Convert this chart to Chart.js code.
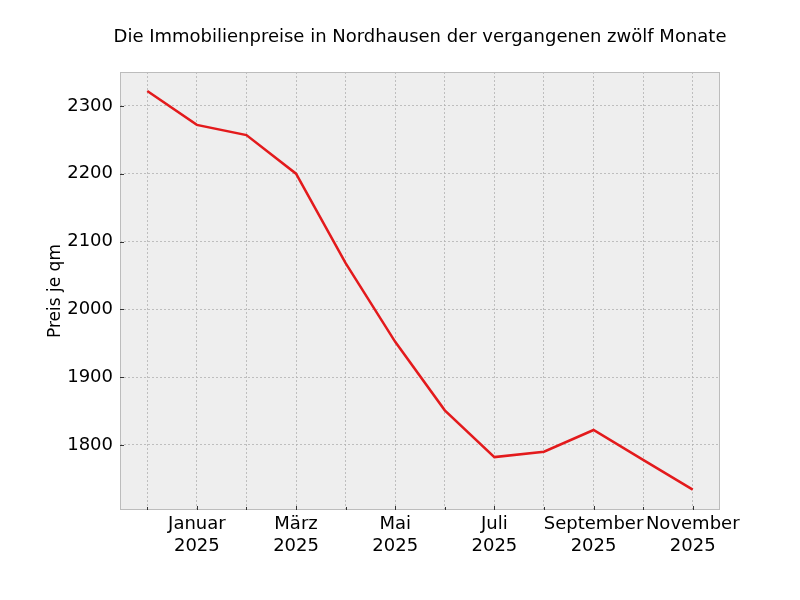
<!DOCTYPE html>
<html lang="de">
<head>
<meta charset="utf-8">
<script src="https://cdn.jsdelivr.net/npm/chart.js@4.4.0/dist/chart.umd.min.js"></script>
<style>
  body { margin: 0; background: #fff; }
</style>
</head>
<body>
<canvas id="chart" width="800" height="600"></canvas>
<script>
// months from Dezember 2024 to November 2025
const months = ['Dezember', 'Januar', 'Februar', 'März', 'April', 'Mai', 'Juni', 'Juli', 'August', 'September', 'Oktober', 'November'];
const years = ['2024', '2025', '2025', '2025', '2025', '2025', '2025', '2025', '2025', '2025', '2025', '2025'];
const prices = [2322, 2272, 2257, 2200, 2068, 1952, 1851, 1782, 1790, 1822, 1778, 1734];
const yTicks = [1800, 1900, 2000, 2100, 2200, 2300];
const title = 'Die Immobilienpreise in Nordhausen der vergangenen zwölf Monate';

const FONT = 'DejaVu Sans';

const points = prices.map((p, i) => ({ x: i, y: p }));

// background, frame, inward tick marks and the title centred over the plot (matplotlib bmh look)
const frame = {
    id: 'frame',
    beforeDraw(chart) {
        const a = chart.chartArea, c = chart.ctx;
        c.save();
        c.fillStyle = '#eeeeee';
        c.fillRect(a.left, a.top, a.right - a.left, a.bottom - a.top);
        c.restore();
    },
    afterDatasetsDraw(chart) {
        const a = chart.chartArea, c = chart.ctx;
        const xs = chart.scales.x, ys = chart.scales.y;
        c.save();
        c.strokeStyle = '#bcbcbc';
        c.lineWidth = 1;
        c.strokeRect(a.left + 0.5, a.top + 0.5, a.right - a.left - 1, a.bottom - a.top - 1);
        c.strokeStyle = '#333';
        c.lineWidth = 1;
        months.forEach((m, i) => {
            const x = Math.round(xs.getPixelForValue(i)) + 0.5;
            const len = i % 2 === 1 ? 4 : 3;
            c.beginPath();
            c.moveTo(x, a.bottom);
            c.lineTo(x, a.bottom - len);
            c.stroke();
        });
        yTicks.forEach(v => {
            const y = Math.round(ys.getPixelForValue(v)) + 0.5;
            c.beginPath();
            c.moveTo(a.left, y);
            c.lineTo(a.left + 4, y);
            c.stroke();
        });
        // title
        c.fillStyle = '#000';
        c.font = '18px "' + FONT + '"';
        c.textAlign = 'center';
        c.textBaseline = 'middle';
        c.fillText(title, (a.left + a.right) / 2, 37);
        c.restore();
    }
};

new Chart(document.getElementById('chart'), {
    type: 'line',
    data: {
        datasets: [{
            data: points,
            borderColor: '#e31a1c',
            borderWidth: 2.5,
            pointRadius: 0,
            tension: 0
        }]
    },
    options: {
        responsive: false,
        animation: false,
        layout: { padding: { left: 0, right: 80, top: 72, bottom: 0 } },
        plugins: {
            legend: { display: false },
            tooltip: { enabled: false },
            title: { display: false }
        },
        scales: {
            x: {
                type: 'linear',
                min: -0.55,
                max: 11.55,
                afterBuildTicks(scale) {
                    scale.ticks = months.map((m, i) => ({ value: i }));
                },
                afterFit(scale) { scale.height = 90; },
                grid: { color: '#b2b2b2', lineWidth: 0.8, drawTicks: false },
                border: { display: false, dash: [2, 2] },
                ticks: {
                    autoSkip: false,
                    maxRotation: 0,
                    padding: 4,
                    color: '#000',
                    font: { family: FONT, size: 18 },
                    callback(v) {
                        return v % 2 === 1 ? [months[v], years[v]] : '';
                    }
                }
            },
            y: {
                min: 1704,
                max: 2350,
                afterBuildTicks(scale) {
                    scale.ticks = yTicks.map(v => ({ value: v }));
                },
                afterFit(scale) { scale.width = 120; },
                grid: { color: '#b2b2b2', lineWidth: 0.8, drawTicks: false },
                border: { display: false, dash: [2, 2] },
                ticks: {
                    padding: 7,
                    color: '#000',
                    font: { family: FONT, size: 18 },
                    callback(v) { return String(v); }
                },
                title: {
                    display: true,
                    text: 'Preis je qm',
                    color: '#000',
                    font: { family: FONT, size: 17 },
                    padding: { top: 45, bottom: 0 }
                }
            }
        }
    },
    plugins: [frame]
});
</script>
</body>
</html>
